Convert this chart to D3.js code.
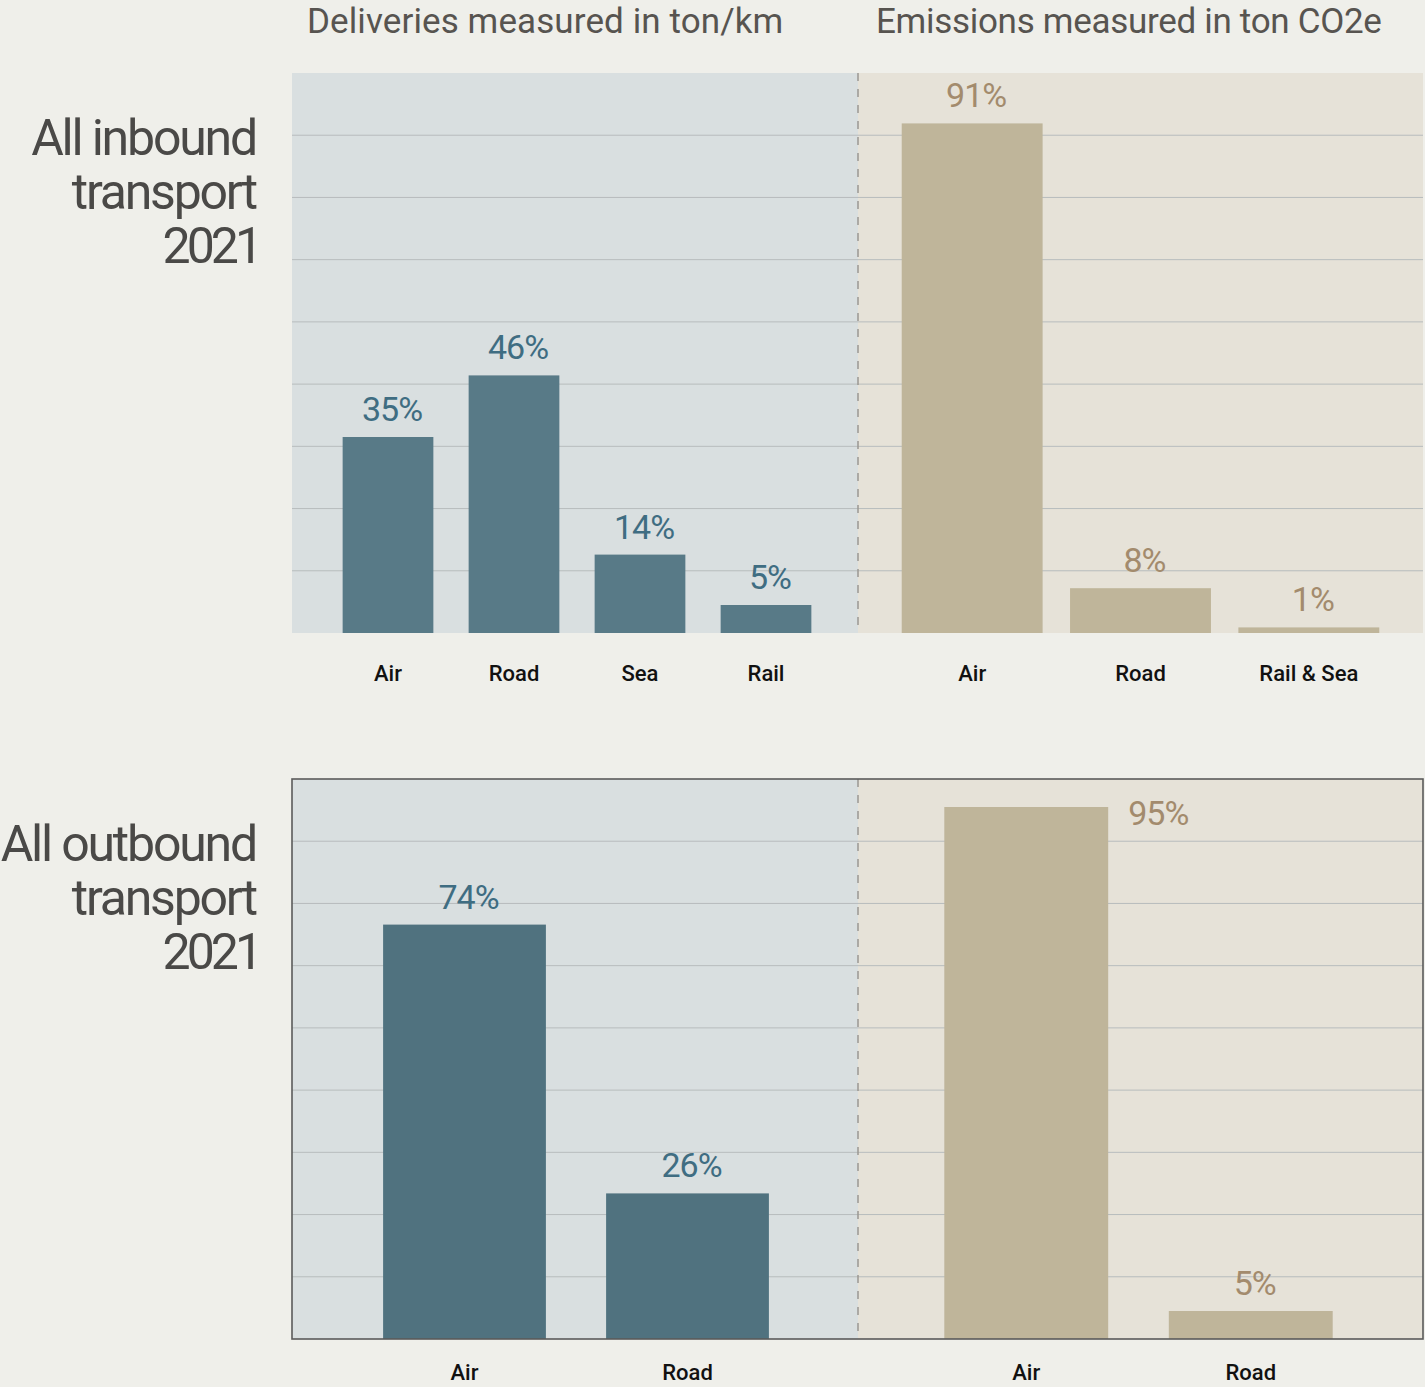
<!DOCTYPE html>
<html><head><meta charset="utf-8">
<script src="https://cdn.jsdelivr.net/npm/d3@7"></script>
<style>
html,body{margin:0;padding:0;background:#efefea;}
svg{display:block;}
</style></head>
<body><svg id="chart" width="1425" height="1387"></svg>
<script>
// ---- data ----
const rowLabels = [["All inbound","transport","2021"],["All outbound","transport","2021"]];
const panelTitles = ["Deliveries measured in ton/km","Emissions measured in ton CO2e"];
const inboundDeliveryCats = ["Air","Road","Sea","Rail"];
const inboundDeliveryVals = [35,46,14,5];
const inboundEmissionCats = ["Air","Road","Rail & Sea"];
const inboundEmissionVals = [91,8,1];
const outboundDeliveryCats = ["Air","Road"];
const outboundDeliveryVals = [74,26];
const outboundEmissionCats = ["Air","Road"];
const outboundEmissionVals = [95,5];

// ---- layout ----
const W = 1425, H = 1387;
const rowTop = [73, 779], rowH = 560;
const panelX = [292, 858, 1423];
const colors = {
  bg:"#efefea", leftBg:"#d9dfe0", rightBg:"#e6e2d8",
  blueBar:["#587a87","#50727f"], tanBar:"#bfb59a",
  blueText:"#3f6d82", tanText:"#a38b6d", grid:"#b7bcbd",
  title:"#575450", row:"#4a4947", cat:"#111"
};
const charts = [
  {row:0,col:0,cats:inboundDeliveryCats,vals:inboundDeliveryVals,range:[33,537],pad:0.28},
  {row:0,col:1,cats:inboundEmissionCats,vals:inboundEmissionVals,range:[30,535],pad:0.163},
  {row:1,col:0,cats:outboundDeliveryCats,vals:outboundDeliveryVals,range:[61,507],pad:0.27},
  {row:1,col:1,cats:outboundEmissionCats,vals:outboundEmissionVals,range:[56,505],pad:0.27}
];

const svg = d3.select("#chart");
svg.append("rect").attr("width",W).attr("height",H).attr("fill",colors.bg);

// titles
panelTitles.forEach((t,i)=>{
  svg.append("text").attr("x",panelX[i]+(i?18:15)).attr("y",33)
    .attr("font-family","Roboto").attr("font-size",35).attr("fill",colors.title)
    .attr("letter-spacing",i?"-0.3":"0.1").text(t);
});

// row labels
rowLabels.forEach((lines,r)=>{
  const t = svg.append("text").attr("text-anchor","end")
    .attr("font-family","Roboto").attr("font-size",50).attr("fill",colors.row);
  lines.forEach((l,k)=>{
    t.append("tspan").attr("x",k===2?259:256).attr("y",rowTop[r]+82+k*54)
      .attr("letter-spacing",k===2?"-4":"-2.2").text(l);
  });
});

const y = d3.scaleLinear().domain([0,100]);

rowTop.forEach((top,r)=>{
  const g = svg.append("g");
  g.append("rect").attr("x",panelX[0]).attr("y",top).attr("width",panelX[1]-panelX[0]).attr("height",rowH).attr("fill",colors.leftBg);
  g.append("rect").attr("x",panelX[1]).attr("y",top).attr("width",panelX[2]-panelX[1]).attr("height",rowH).attr("fill",colors.rightBg);
  const gy = d3.scaleLinear().domain([0,9]).range([top,top+rowH]);
  g.selectAll("line.grid").data(d3.range(1,9)).join("line")
    .attr("x1",panelX[0]).attr("x2",panelX[2])
    .attr("y1",d=>gy(d)).attr("y2",d=>gy(d))
    .attr("stroke",colors.grid).attr("stroke-width",1);
});

charts.forEach(c=>{
  const top = rowTop[c.row], base = top+rowH;
  const x0 = panelX[c.col];
  const x = d3.scaleBand().domain(c.cats).range([x0+c.range[0],x0+c.range[1]])
    .paddingInner(c.pad).paddingOuter(c.pad/2);
  const yy = y.copy().range([base, top]);
  const data = c.cats.map((k,i)=>({k,v:c.vals[i]}));
  const g = svg.append("g");
  g.selectAll("rect.bar").data(data).join("rect")
    .attr("x",d=>x(d.k)).attr("width",x.bandwidth())
    .attr("y",d=>yy(d.v)).attr("height",d=>base-yy(d.v))
    .attr("fill",c.col===0?colors.blueBar[c.row]:colors.tanBar);
  g.selectAll("text.val").data(data).join("text")
    .attr("font-family","Roboto").attr("font-size",34)
    .attr("letter-spacing","-1")
    .attr("fill",c.col===0?colors.blueText:colors.tanText)
    .each(function(d){
      const t = d3.select(this);
      const barTop = yy(d.v);
      if (barTop - 15 - 26 < top) {
        t.attr("x",x(d.k)+x.bandwidth()+20).attr("y",barTop+18).attr("text-anchor","start");
      } else {
        t.attr("x",x(d.k)+x.bandwidth()/2+4).attr("y",barTop-16).attr("text-anchor","middle");
      }
    })
    .text(d=>d.v+"%");
  const axis = d3.axisBottom(x).tickSize(0).tickPadding(0);
  const ag = g.append("g").attr("transform",`translate(0,${base+(c.row?41:48)})`).call(axis);
  ag.select(".domain").remove();
  ag.selectAll("text").attr("dy",null).attr("y",0)
    .attr("font-family","Roboto").attr("font-size",22).attr("font-weight",500)
    .attr("fill",colors.cat);
});

// dashed dividers
rowTop.forEach(top=>{
  svg.append("line").attr("x1",panelX[1]).attr("x2",panelX[1])
    .attr("y1",top).attr("y2",top+rowH)
    .attr("stroke","#9a9893").attr("stroke-width",1.5).attr("stroke-dasharray","8,8");
});
// border around outbound row
svg.append("rect").attr("x",panelX[0]).attr("y",rowTop[1])
  .attr("width",panelX[2]-panelX[0]).attr("height",rowH)
  .attr("fill","none").attr("stroke","#5b5b5b").attr("stroke-width",1.6);
</script></body></html>
